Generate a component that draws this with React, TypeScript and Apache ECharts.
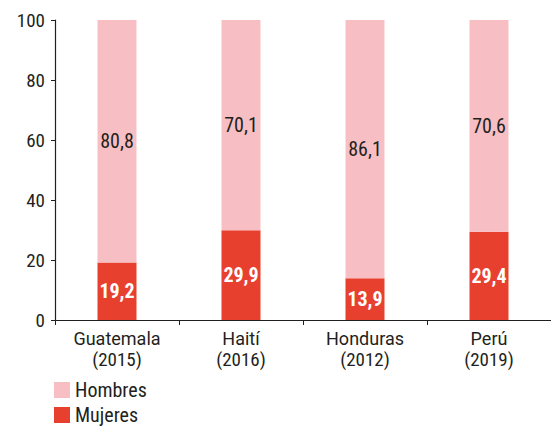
import React, { useEffect, useRef } from "react";
import * as echarts from "echarts";

const categories = ["Guatemala\n(2015)", "Haití\n(2016)", "Honduras\n(2012)", "Perú\n(2019)"];
const mujeres = [19.2, 29.9, 13.9, 29.4];
const hombres = [80.8, 70.1, 86.1, 70.6];
const yTicks = [0, 20, 40, 60, 80, 100];

const COND = "'Roboto Condensed', Roboto, sans-serif";
const REG = "Roboto, sans-serif";
const TEXT = "#231F20";
const fmt = (v: number) => v.toFixed(1).replace(".", ",");

export default function App() {
  const ref = useRef<HTMLDivElement>(null);
  useEffect(() => {
    if (!ref.current) return;
    const chart = echarts.init(ref.current, undefined, { renderer: "svg" });
    chart.setOption({
      animation: false,
      textStyle: { fontFamily: COND },
      grid: { left: 55, top: 20, width: 500, height: 300, containLabel: false },
      legend: {
        orient: "vertical",
        left: 54,
        top: 380,
        height: 46,
        padding: 0,
        itemWidth: 16,
        itemHeight: 16,
        itemGap: 5,
        icon: "rect",
        data: ["Hombres", "Mujeres"],
        textStyle: { fontFamily: COND, fontSize: 20, lineHeight: 17, color: TEXT },
      },
      xAxis: {
        type: "category",
        data: categories,
        axisLine: { lineStyle: { color: TEXT, width: 1.2 } },
        axisTick: { show: true, length: 5, lineStyle: { color: TEXT } },
        axisLabel: {
          color: TEXT,
          margin: 8,
          formatter: (v: string) => {
            const [name, year] = v.split("\n");
            return "{a|" + name + "}\n{b|" + year + "}";
          },
          rich: {
            a: { fontFamily: REG, fontSize: 18, color: TEXT, lineHeight: 21 },
            b: { fontFamily: COND, fontSize: 19, color: TEXT, lineHeight: 21 },
          },
        },
      },
      yAxis: {
        type: "value",
        min: yTicks[0],
        max: yTicks[yTicks.length - 1],
        interval: 20,
        splitLine: { show: false },
        axisLine: { show: true, lineStyle: { color: TEXT, width: 1.2 } },
        axisTick: { show: true, length: 4, lineStyle: { color: TEXT } },
        axisLabel: { fontFamily: COND, fontSize: 19, color: TEXT, margin: 10 },
      },
      series: [
        {
          name: "Mujeres",
          type: "bar",
          stack: "total",
          barWidth: 39,
          data: mujeres,
          itemStyle: { color: "#E8402F" },
          label: {
            show: true,
            position: "inside",
            color: "#ffffff",
            fontWeight: "bold",
            fontSize: 20,
            fontFamily: COND,
            formatter: (p: any) => fmt(p.value),
          },
        },
        {
          name: "Hombres",
          type: "bar",
          stack: "total",
          barWidth: 39,
          data: hombres,
          itemStyle: { color: "#F7BFC3" },
          label: {
            show: true,
            position: "inside",
            color: TEXT,
            fontSize: 20,
            fontFamily: COND,
            formatter: (p: any) => fmt(p.value),
          },
        },
      ],
    });
    return () => chart.dispose();
  }, []);
  return <div ref={ref} style={{ width: 551, height: 426, position: "absolute", left: 0, top: 0 }} />;
}
